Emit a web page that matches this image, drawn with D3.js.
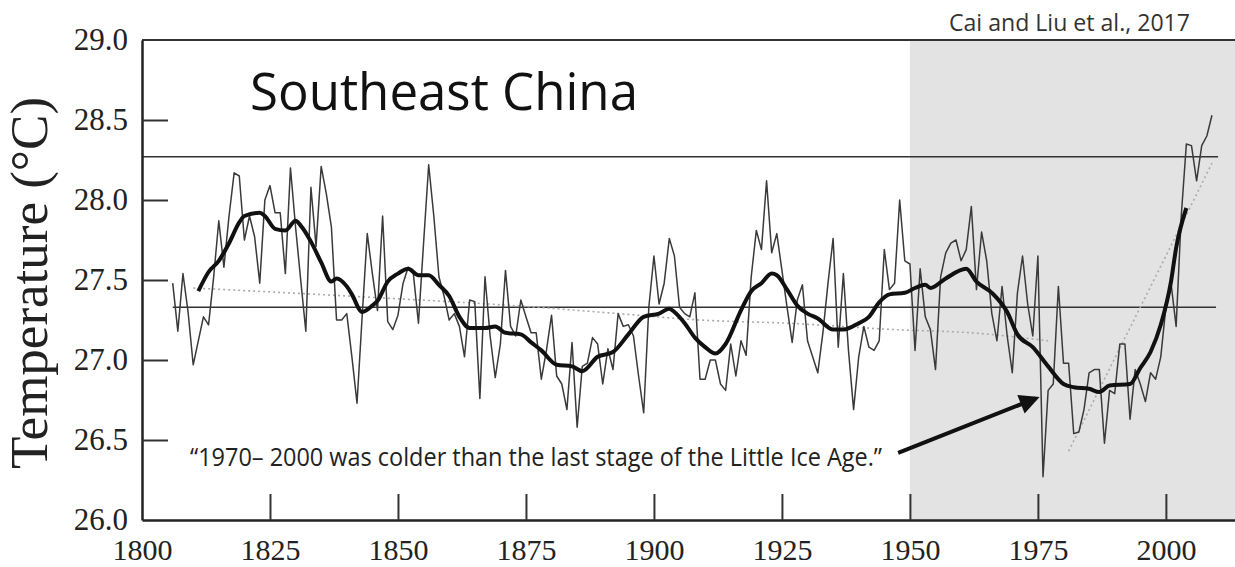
<!DOCTYPE html>
<html>
<head>
<meta charset="utf-8">
<script src="https://cdn.jsdelivr.net/npm/d3@7"></script>
<style>
  body { margin: 0; background: #fff; }
  svg { display: block; }
</style>
</head>
<body>
<div id="chart"></div>
<script>
// annual temperature reconstruction, 1806-2009
var firstYear = 1806;
var annualTemps = [
  27.48, 27.18, 27.54, 27.30, 26.97, 27.12, 27.27, 27.22, 27.52, 27.87,
  27.58, 27.90, 28.17, 28.15, 27.75, 27.90, 27.77, 27.48, 28.00, 28.09,
  27.92, 27.92, 27.54, 28.20, 27.83, 27.50, 27.18, 28.08, 27.71, 28.21,
  28.04, 27.83, 27.25, 27.25, 27.29, 27.02, 26.73, 27.27, 27.79, 27.54,
  27.31, 27.90, 27.24, 27.19, 27.28, 27.48, 27.58, 27.54, 27.23, 27.73,
  28.22, 27.90, 27.52, 27.40, 27.25, 27.29, 27.21, 27.02, 27.375, 27.365,
  26.76, 27.52, 27.15, 26.89, 27.10, 27.56, 27.21, 27.15, 27.375, 27.27,
  27.17, 27.17, 26.88, 27.06, 27.28, 26.90, 26.85, 26.69, 27.11, 26.58,
  26.96, 26.98, 27.14, 27.10, 26.85, 27.07, 26.94, 27.29, 27.21, 27.22,
  27.15, 26.90, 26.67, 27.33, 27.65, 27.35, 27.48, 27.76, 27.65, 27.33,
  27.29, 27.27, 27.42, 26.88, 26.88, 27.00, 27.00, 26.85, 26.81, 27.10,
  26.90, 27.12, 27.03, 27.52, 27.81, 27.69, 28.12, 27.67, 27.79, 27.56,
  27.33, 27.11, 27.375, 27.47, 27.12, 27.02, 26.92, 27.17, 27.48, 27.76,
  27.08, 27.54, 27.06, 26.69, 27.02, 27.21, 27.08, 27.06, 27.12, 27.69,
  27.44, 27.48, 28.00, 27.62, 27.60, 27.06, 27.57, 27.27, 27.19, 26.94,
  27.52, 27.67, 27.73, 27.75, 27.62, 27.69, 27.96, 27.44, 27.80, 27.62,
  27.29, 27.12, 27.46, 27.15, 26.92, 27.42, 27.65, 27.35, 27.15, 27.65,
  26.27, 26.81, 26.85, 27.46, 26.98, 26.98, 26.54, 26.55, 26.69, 26.92,
  26.94, 26.94, 26.48, 26.81, 26.79, 27.10, 27.10, 26.63, 26.94, 26.85,
  26.74, 26.92, 26.88, 27.02, 27.33, 27.48, 27.21, 27.90, 28.35, 28.34,
  28.12, 28.34, 28.40, 28.53
];

// smoothed curve (thick black)
var smoothYears = [1811, 1813, 1815, 1817, 1819, 1820, 1823, 1824, 1826, 1828,
  1830, 1831, 1833, 1835, 1837, 1838, 1840, 1841, 1843, 1845, 1846, 1848, 1850,
  1852, 1854, 1856, 1858, 1860, 1862, 1864, 1867, 1869, 1871, 1874, 1876, 1878,
  1881, 1884, 1886, 1889, 1892, 1895, 1898, 1901, 1903, 1904, 1906, 1908, 1910,
  1912, 1914, 1917, 1919, 1921, 1923, 1924, 1926, 1928, 1930, 1932, 1935, 1937,
  1940, 1942, 1944, 1946, 1949, 1951, 1953, 1954, 1957, 1961, 1963, 1966, 1969,
  1971, 1974, 1977, 1980, 1982, 1985, 1987, 1989, 1993, 1995, 1997, 1999, 2001,
  2002, 2004];
var smoothTemps = [27.43, 27.55, 27.62, 27.73, 27.86, 27.90, 27.92, 27.90, 27.82, 27.81,
  27.87, 27.84, 27.74, 27.61, 27.49, 27.51, 27.46, 27.41, 27.30, 27.34, 27.37, 27.49, 27.54,
  27.57, 27.53, 27.53, 27.47, 27.40, 27.27, 27.20, 27.20, 27.21, 27.17, 27.16, 27.11, 27.06,
  26.97, 26.96, 26.93, 27.02, 27.05, 27.16, 27.27, 27.29, 27.32, 27.30, 27.23, 27.14, 27.08,
  27.04, 27.10, 27.31, 27.43, 27.48, 27.54, 27.53, 27.44, 27.34, 27.29, 27.26, 27.19, 27.19,
  27.23, 27.27, 27.36, 27.41, 27.42, 27.45, 27.47, 27.45, 27.51, 27.57, 27.49, 27.42, 27.30,
  27.16, 27.08, 26.96, 26.85, 26.83, 26.82, 26.80, 26.84, 26.85, 26.95, 27.05, 27.22, 27.49,
  27.70, 27.95];

// grey dotted trend lines
var trendYears = [1810, 1840, 1877, 1893, 1909, 1926, 1947, 1962, 1977];
var trendTemps = [27.45, 27.40, 27.33, 27.29, 27.25, 27.23, 27.19, 27.17, 27.12];
var recentTrendYears = [1981, 1990, 2000, 2009];
var recentTrendTemps = [26.43, 27.01, 27.65, 28.23];

var refHigh = 28.27, refLow = 27.33;
var shadeStart = 1950;
var xTicks = [1800, 1825, 1850, 1875, 1900, 1925, 1950, 1975, 2000];
var yTicks = [26.0, 26.5, 27.0, 27.5, 28.0, 28.5, 29.0];

function drawChart() {
    var W = 1235, H = 567;
    var pLeft = 142, pRight = 1235, pTop = 40, pBottom = 520;

    var svg = d3.select("#chart").append("svg")
        .attr("width", W)
        .attr("height", H);

    var x = d3.scaleLinear().domain([1800, 2013.5]).range([pLeft, pRight]);
    var y = d3.scaleLinear().domain([26, 29]).range([pBottom, pTop]);

    // shaded modern period
    svg.append("rect")
        .attr("x", x(shadeStart))
        .attr("y", pTop)
        .attr("width", pRight - x(shadeStart))
        .attr("height", pBottom - pTop)
        .attr("fill", "#e3e3e3");

    // top frame line
    svg.append("line")
        .attr("x1", pLeft).attr("x2", pRight)
        .attr("y1", pTop).attr("y2", pTop)
        .attr("stroke", "#333").attr("stroke-width", 2);

    // reference lines
    svg.append("line")
        .attr("x1", x(1800)).attr("x2", x(2010.2))
        .attr("y1", y(refHigh)).attr("y2", y(refHigh))
        .attr("stroke", "#333").attr("stroke-width", 1.6);
    svg.append("line")
        .attr("x1", x(1806)).attr("x2", x(2009.8))
        .attr("y1", y(refLow)).attr("y2", y(refLow))
        .attr("stroke", "#333").attr("stroke-width", 1.6);

    // dotted trends
    var trendLine = d3.line()
        .x(function(d) { return x(d[0]); })
        .y(function(d) { return y(d[1]); })
        .curve(d3.curveMonotoneX);
    svg.append("path")
        .datum(d3.zip(trendYears, trendTemps))
        .attr("d", trendLine)
        .attr("fill", "none").attr("stroke", "#aaa")
        .attr("stroke-width", 1.6).attr("stroke-dasharray", "2,3");
    svg.append("path")
        .datum(d3.zip(recentTrendYears, recentTrendTemps))
        .attr("d", trendLine)
        .attr("fill", "none").attr("stroke", "#aaa")
        .attr("stroke-width", 1.6).attr("stroke-dasharray", "2,3");

    // annual series
    var annual = annualTemps.map(function(t, i) { return [firstYear + i, t]; });
    svg.append("path")
        .datum(annual)
        .attr("d", d3.line()
            .x(function(d) { return x(d[0]); })
            .y(function(d) { return y(d[1]); }))
        .attr("fill", "none").attr("stroke", "#3a3a3a")
        .attr("stroke-width", 1.5).attr("stroke-linejoin", "round");

    // smoothed series
    svg.append("path")
        .datum(d3.zip(smoothYears, smoothTemps))
        .attr("d", d3.line()
            .x(function(d) { return x(d[0]); })
            .y(function(d) { return y(d[1]); })
            .curve(d3.curveMonotoneX))
        .attr("fill", "none").attr("stroke", "#111")
        .attr("stroke-width", 4).attr("stroke-linejoin", "round");

    // axes
    var yAxis = svg.append("g")
        .attr("transform", "translate(" + pLeft + ",0)")
        .call(d3.axisLeft(y).tickValues(yTicks).tickFormat(d3.format(".1f"))
            .tickSize(-26).tickSizeOuter(0).tickPadding(14));
    var xAxis = svg.append("g")
        .attr("transform", "translate(0," + pBottom + ")")
        .call(d3.axisBottom(x).tickValues(xTicks).tickFormat(d3.format("d"))
            .tickSize(-26).tickSizeOuter(0).tickPadding(19));
    [yAxis, xAxis].forEach(function(g) {
        g.select(".domain").attr("stroke", "#222").attr("stroke-width", 2.5);
        g.selectAll(".tick line").attr("stroke", "#333").attr("stroke-width", 2);
        g.selectAll(".tick text")
            .attr("fill", "#222")
            .style("font-family", "'Liberation Serif', 'Times New Roman', serif")
            .style("font-size", "31px");
    });
    xAxis.selectAll(".tick text").style("font-size", "30px");
    yAxis.selectAll(".tick line").filter(function(d) { return d === 26 || d === 29; }).remove();
    xAxis.selectAll(".tick line").filter(function(d) { return d === 1800; }).remove();

    // y axis title
    svg.append("text")
        .attr("transform", "translate(47,283) rotate(-90)")
        .attr("text-anchor", "middle")
        .style("font-family", "'Liberation Serif', 'Times New Roman', serif")
        .style("font-size", "53px")
        .attr("fill", "#222")
        .text("Temperature (°C)");

    // titles and annotation
    svg.append("text")
        .attr("x", 250).attr("y", 110)
        .style("font-family", "'Open Sans', sans-serif")
        .style("font-size", "51px")
        .attr("fill", "#111")
        .text("Southeast China");

    svg.append("text")
        .attr("x", 949).attr("y", 31)
        .attr("textLength", 241).attr("lengthAdjust", "spacingAndGlyphs")
        .style("font-family", "'Open Sans', sans-serif")
        .style("font-size", "23px")
        .attr("fill", "#333")
        .text("Cai and Liu et al., 2017");

    svg.append("text")
        .attr("x", 190).attr("y", 466)
        .attr("textLength", 692).attr("lengthAdjust", "spacingAndGlyphs")
        .style("font-family", "'Open Sans', sans-serif")
        .style("font-size", "25px")
        .attr("fill", "#222")
        .text("\u201C1970\u2013 2000 was colder than the last stage of the Little Ice Age.\u201D");

    // arrow
    svg.append("defs").append("marker")
        .attr("id", "head")
        .attr("viewBox", "0 0 10 10")
        .attr("refX", 8).attr("refY", 5)
        .attr("markerWidth", 6).attr("markerHeight", 5)
        .attr("markerUnits", "strokeWidth")
        .attr("orient", "auto")
        .append("path")
        .attr("d", "M0,0 L10,5 L0,10 z")
        .attr("fill", "#111");
    svg.append("line")
        .attr("x1", x(1947.7)).attr("y1", y(26.42))
        .attr("x2", x(1974.6)).attr("y2", y(26.76))
        .attr("stroke", "#111").attr("stroke-width", 4)
        .attr("marker-end", "url(#head)");
}

drawChart();
</script>
</body>
</html>
